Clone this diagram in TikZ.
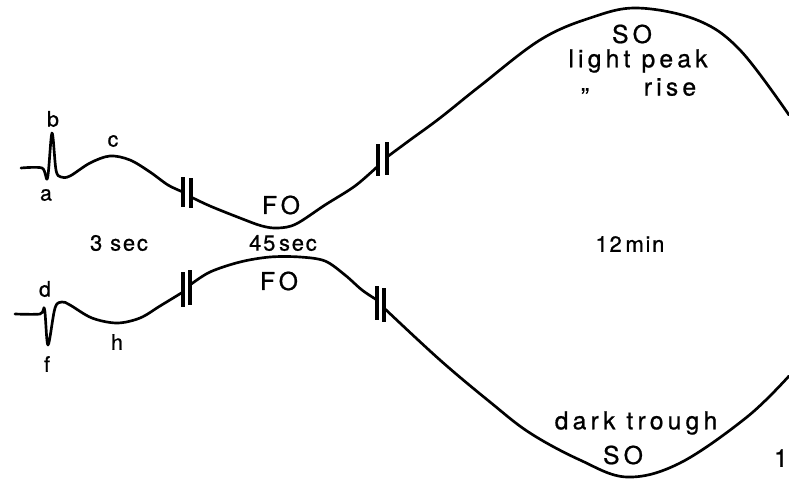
\documentclass[tikz,border=0pt]{standalone}
\usepackage{fontspec}
\setmainfont{TeX Gyre Heros}
\newfontfamily\bigf[LetterSpace=17,FakeBold=0.8]{TeX Gyre Heros}
\newfontfamily\midf[LetterSpace=8,FakeBold=0.8]{TeX Gyre Heros}
\newfontfamily\smf[FakeBold=0.8]{TeX Gyre Heros}
\begin{document}
\begin{tikzpicture}[x=0.75pt,y=-0.75pt,
  trace/.style={line width=2pt,line cap=round,line join=round},
  brk/.style={line width=2.5pt},
  lbl/.style={inner sep=0pt,font=\smf\fontsize{16}{17}\selectfont},
  midlbl/.style={inner sep=0pt,font=\midf\fontsize{16.5}{17}\selectfont},
  biglbl/.style={inner sep=0pt,font=\bigf\fontsize{18.5}{19}\selectfont}]
\useasboundingbox (0,0) rectangle (789,483);
% top trace
\draw[trace] plot[smooth,tension=0.55] coordinates {(21,168) (42,168) (47.5,178) (52,133) (56,170) (61,177) (70,176) (90,163) (110,156) (130,160) (150,172) (168,185) (183,192)};
\draw[trace] plot[smooth,tension=0.55] coordinates {(191,197) (210,206) (240,218) (262,226) (278,228) (296,224) (325,205) (355,186) (378,166)};
\draw[trace] plot[smooth,tension=0.6] coordinates {(387,157) (410,140) (440,118) (480,86) (540,40) (590,18) (637,8) (697,20) (740,50) (789,115)};
\draw[brk] (183,177) -- (183,207);
\draw[brk] (191,178) -- (191,208);
\draw[brk] (378,144) -- (378,176);
\draw[brk] (387,142) -- (387,175);
% bottom trace
\draw[trace] plot[smooth,tension=0.55] coordinates {(15,314) (40,314) (44.5,309) (48,345) (55,308) (62,302) (70,305) (92,318) (117,323) (140,318) (160,306) (183,292)};
\draw[trace] plot[smooth,tension=0.55] coordinates {(190,285) (210,272) (240,262) (270,257) (300,257) (325,261) (345,275) (362,290) (377,300)};
\draw[trace] plot[smooth,tension=0.6] coordinates {(384,308) (440,360) (490,402) (530,433) (580,460) (627,477) (680,463) (747,417) (789,376)};
\draw[brk] (183,272) -- (183,307);
\draw[brk] (190,270) -- (190,305);
\draw[brk] (377,286) -- (377,320);
\draw[brk] (384,288) -- (384,322);
% labels
\node[lbl] (b) at (53,119) {b};
\node[lbl] (c) at (113,141) {c};
\node[lbl] (a) at (46,195) {a};
\node[lbl] (d) at (45,289) {d};
\node[lbl] (f) at (47,364) {f};
\node[lbl] (h) at (117,342) {h};
\node[midlbl] (t3) at (119,243) {3 sec};
\node[midlbl] (t45) at (283,243) {45\,sec};
\node[midlbl] (t12) at (630,244) {12\,min};
\node[biglbl] (fo1) at (281,205) {FO};
\node[biglbl] (fo2) at (279,281) {FO};
\node[biglbl] (so1) at (632,34) {SO};
\node[biglbl] (lp) at (638,61) {light peak};
\node[biglbl] (q) at (585,91) {„};
\node[biglbl] (rise) at (670,87) {rise};
\node[biglbl] (dt) at (636,423) {dark trough};
\node[biglbl] (so2) at (623,455) {SO};
\node[biglbl,anchor=east] (one) at (788,458) {1};
\end{tikzpicture}
\end{document}
